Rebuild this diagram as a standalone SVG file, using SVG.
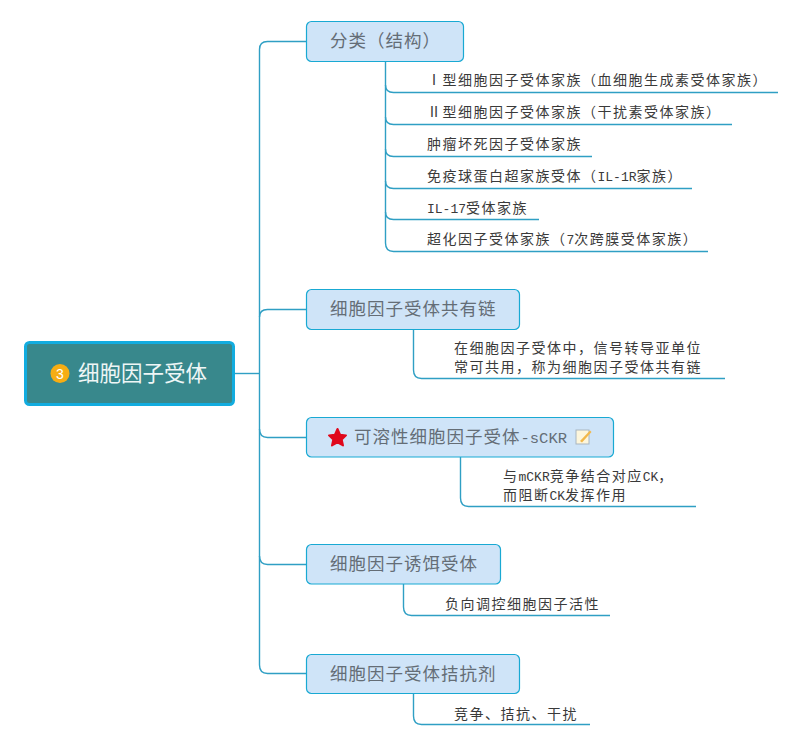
<svg xmlns="http://www.w3.org/2000/svg" width="800" height="746" viewBox="0 0 800 746">
<style>
text{font-family:"Noto Sans CJK SC","Liberation Mono",sans-serif}
.c{fill:none;stroke:#2f9fc4;stroke-width:1.4}
.topic{fill:#cfe4f8;stroke:#19a9d3;stroke-width:1.2}
.tt{font-size:17.5px;letter-spacing:1px;fill:#646d76}
.st{font-size:14px;letter-spacing:1.5px;fill:#3a3a3a}
.lat{font-family:"Liberation Mono",monospace;font-size:13px;letter-spacing:0}
.lat2{font-family:"Liberation Mono",monospace;font-size:15.500px;letter-spacing:0}
</style>
<g id="connectors">
<path class="c" d="M234 373.500H259.500"/>
<path class="c" d="M306 41.500H267.500Q259.500 41.500 259.500 49.500V665Q259.500 673.500 267.500 673.500H306"/>
<path class="c" d="M259.500 317Q259.500 309.500 267.500 309.500H306"/>
<path class="c" d="M259.500 429Q259.500 437.500 267.500 437.500H306"/>
<path class="c" d="M259.500 556Q259.500 564.500 267.500 564.500H306"/>
<path class="c" d="M385.500 62V243Q385.500 251.500 393.500 251.500H708"/>
<path class="c" d="M385.500 85Q385.500 92.500 393.500 92.500H778"/>
<path class="c" d="M385.500 117Q385.500 124.500 393.500 124.500H732"/>
<path class="c" d="M385.500 149Q385.500 156.500 393.500 156.500H592"/>
<path class="c" d="M385.500 181Q385.500 188.500 393.500 188.500H692"/>
<path class="c" d="M385.500 212Q385.500 219.500 393.500 219.500H539"/>
<path class="c" d="M413.500 329V370Q413.500 378.500 421.500 378.500H725"/>
<path class="c" d="M460.500 457V498Q460.500 506.500 468.500 506.500H696"/>
<path class="c" d="M403.500 584V607Q403.500 615.500 411.500 615.500H610"/>
<path class="c" d="M413.500 693V716Q413.500 724.500 421.500 724.500H590"/>
</g>
<g id="root">
<rect x="25.500" y="342.500" width="208" height="62" rx="4" fill="#38888c" stroke="#12acdf" stroke-width="3"/>
<circle cx="60" cy="373.500" r="9.500" fill="#f6ad13"/>
<text x="60" y="378.500" text-anchor="middle" style="font-family:'Liberation Sans',sans-serif;font-size:14px;fill:#fff">3</text>
<text x="78" y="380.500" style="font-size:21.500px;fill:#eef6f6">细胞因子受体</text>
</g>
<g id="topic1">
<rect class="topic" x="306.500" y="21.500" width="157" height="40" rx="5"/>
<text class="tt" x="330" y="47">分类（结构）</text>
</g>
<g id="topic2">
<rect class="topic" x="306.500" y="289.500" width="213" height="40" rx="5"/>
<text class="tt" x="330" y="315">细胞因子受体共有链</text>
</g>
<g id="topic3">
<rect class="topic" x="306.500" y="417.500" width="307" height="39.500" rx="5"/>
<polygon points="337.500,429 340.200,434.800 346,435.400 341.700,439.500 343,445.400 337.500,442.400 332,445.400 333.300,439.500 329,435.400 334.800,434.800" fill="#e0081c" stroke="#e0081c" stroke-width="2" stroke-linejoin="round"/>
<text class="tt" x="354" y="443">可溶性细胞因子受体<tspan class="lat2">-sCKR</tspan></text>
<rect x="576" y="430" width="13" height="14" fill="#fdf6dc" stroke="#a9b5bf"/>
<path d="M580 441L590 430.500L591.500 432L582 442.500Z" fill="#f2b84a"/>
</g>
<g id="topic4">
<rect class="topic" x="306.500" y="544.500" width="194" height="39.500" rx="5"/>
<text class="tt" x="330" y="570">细胞因子诱饵受体</text>
</g>
<g id="topic5">
<rect class="topic" x="306.500" y="654.500" width="213" height="39" rx="5"/>
<text class="tt" x="330" y="680">细胞因子受体拮抗剂</text>
</g>
<g id="sub1"><text class="st" x="427" y="85">Ⅰ型细胞因子受体家族（血细胞生成素受体家族）</text></g>
<g id="sub2"><text class="st" x="427" y="117">Ⅱ型细胞因子受体家族（干扰素受体家族）</text></g>
<g id="sub3"><text class="st" x="427" y="149">肿瘤坏死因子受体家族</text></g>
<g id="sub4"><text class="st" x="427" y="181">免疫球蛋白超家族受体（<tspan class="lat">IL-1R</tspan>家族）</text></g>
<g id="sub5"><text class="st" x="427" y="213"><tspan class="lat">IL-17</tspan>受体家族</text></g>
<g id="sub6"><text class="st" x="427" y="244">超化因子受体家族（<tspan class="lat">7</tspan>次跨膜受体家族）</text></g>
<g id="sub7"><text class="st" x="454" y="353"><tspan x="454" y="353">在细胞因子受体中，信号转导亚单位</tspan><tspan x="454" y="372">常可共用，称为细胞因子受体共有链</tspan></text></g>
<g id="sub8"><text class="st" x="503" y="481"><tspan x="503" y="481">与<tspan class="lat">mCKR</tspan>竞争结合对应<tspan class="lat">CK</tspan>，</tspan><tspan x="503" y="500">而阻断<tspan class="lat">CK</tspan>发挥作用</tspan></text></g>
<g id="sub9"><text class="st" x="445" y="609">负向调控细胞因子活性</text></g>
<g id="sub10"><text class="st" x="454" y="719">竞争、拮抗、干扰</text></g>
</svg>
